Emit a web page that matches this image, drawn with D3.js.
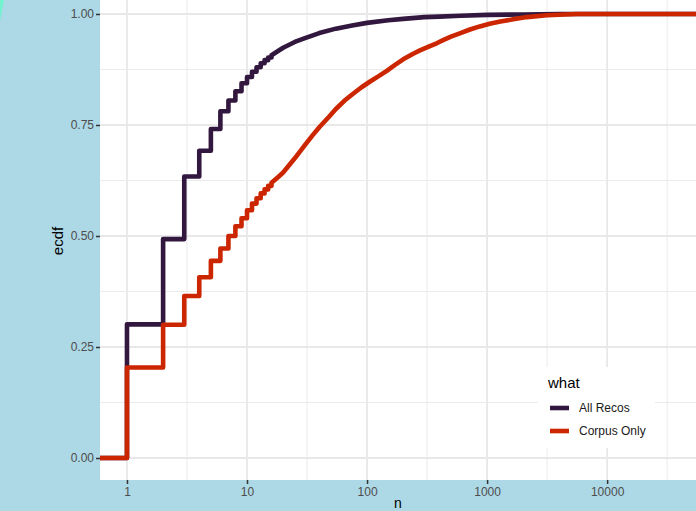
<!DOCTYPE html>
<html>
<head>
<meta charset="utf-8">
<script src="https://cdn.jsdelivr.net/npm/d3@7"></script>
<style>
  body { margin: 0; background: #add8e6; }
  svg { display: block; font-family: "Liberation Sans", Arial, sans-serif; }
</style>
</head>
<body>
<svg id="chart"></svg>
<script>
// series names and colours
const seriesNames = ["All Recos", "Corpus Only"];
const seriesColors = ["#32173f", "#cc2600"];

// integer steps of the ecdf (n = 1..16)
const stepN = [1, 2, 3, 4, 5, 6, 7, 8, 9, 10, 11, 12, 13, 14, 15, 16];
const allRecosStep = [0.301, 0.493, 0.634, 0.692, 0.741, 0.781, 0.805, 0.826, 0.844, 0.858, 0.870, 0.880, 0.889, 0.896, 0.902, 0.907];
const corpusStep = [0.204, 0.300, 0.365, 0.407, 0.444, 0.472, 0.500, 0.522, 0.540, 0.558, 0.573, 0.585, 0.596, 0.605, 0.613, 0.620];

// smooth tail of the ecdf (steps too small to see)
const allRecosTailN = [18, 20, 25, 30, 40, 55, 75, 100, 150, 200, 300, 400, 600, 1000, 2000, 4000];
const allRecosTail = [0.916, 0.924, 0.937, 0.945, 0.957, 0.967, 0.974, 0.980, 0.986, 0.989, 0.993, 0.994, 0.996, 0.998, 0.999, 1.0];
const corpusTailN = [18, 20, 25, 30, 35, 40, 48, 55, 65, 77, 90, 106, 125, 146, 170, 200, 240, 276, 330, 380, 430, 500, 600, 720, 870, 1050, 1290, 1650, 2150, 3160, 5600];
const corpusTail = [0.632, 0.643, 0.675, 0.703, 0.726, 0.745, 0.768, 0.786, 0.805, 0.821, 0.835, 0.848, 0.860, 0.872, 0.885, 0.898, 0.910, 0.918, 0.927, 0.934, 0.941, 0.949, 0.957, 0.965, 0.972, 0.978, 0.983, 0.988, 0.993, 0.997, 1.0];

const xTicks = [1, 10, 100, 1000, 10000];
const xMinor = [Math.sqrt(10), Math.sqrt(1000), Math.sqrt(100000), Math.sqrt(1e7), Math.sqrt(1e9)];
const yTicks = [0, 0.25, 0.5, 0.75, 1];
const yMinor = [0.125, 0.375, 0.625, 0.875];

const W = 696, H = 511;
const panel = { left: 100, top: 0, right: 696, bottom: 480 };

const svg = d3.select("#chart").attr("width", W).attr("height", H);

svg.append("rect").attr("width", W).attr("height", H).attr("fill", "#add8e6");
// little aquamarine sliver at the corner
svg.append("path").attr("d", "M0,0L4,0L0,21Z").attr("fill", "#72f2cf");

const x = d3.scaleLog().domain([0.596, 55000]).range([panel.left, panel.right]);
const y = d3.scaleLinear().domain([-0.0495, 1.0315]).range([panel.bottom, panel.top]);

svg.append("rect")
  .attr("x", panel.left).attr("y", panel.top)
  .attr("width", panel.right - panel.left).attr("height", panel.bottom - panel.top)
  .attr("fill", "white");

const grid = svg.append("g");
xMinor.forEach(v => grid.append("line")
  .attr("x1", x(v)).attr("x2", x(v)).attr("y1", panel.top).attr("y2", panel.bottom)
  .attr("stroke", "#ebebeb").attr("stroke-width", 1));
yMinor.forEach(v => grid.append("line")
  .attr("x1", panel.left).attr("x2", panel.right).attr("y1", y(v)).attr("y2", y(v))
  .attr("stroke", "#ebebeb").attr("stroke-width", 1));
xTicks.forEach(v => grid.append("line")
  .attr("x1", x(v)).attr("x2", x(v)).attr("y1", panel.top).attr("y2", panel.bottom)
  .attr("stroke", "#e8e8e8").attr("stroke-width", 1.8));
yTicks.forEach(v => grid.append("line")
  .attr("x1", panel.left).attr("x2", panel.right).attr("y1", y(v)).attr("y2", y(v))
  .attr("stroke", "#e8e8e8").attr("stroke-width", 1.8));

// build ecdf point list: explicit corners for the steps, plain points for the tail
function ecdfPoints(stepVals, tailN, tailVals) {
  const pts = [[x.domain()[0], 0]];
  let prev = 0;
  stepN.forEach((n, i) => {
    pts.push([n, prev]);
    pts.push([n, stepVals[i]]);
    prev = stepVals[i];
  });
  tailN.forEach((n, i) => pts.push([n, tailVals[i]]));
  pts.push([x.domain()[1], 1]);
  return pts;
}

const line = d3.line().x(d => x(d[0])).y(d => y(d[1]));

const allData = [
  ecdfPoints(allRecosStep, allRecosTailN, allRecosTail),
  ecdfPoints(corpusStep, corpusTailN, corpusTail)
];

allData.forEach((pts, i) => {
  svg.append("path")
    .datum(pts)
    .attr("fill", "none")
    .attr("stroke", seriesColors[i])
    .attr("stroke-width", 4.6)
    .attr("stroke-linejoin", "round")
    .attr("d", line);
});

// axes
const xAxis = d3.axisBottom(x).tickValues(xTicks).tickFormat(d3.format("d")).tickSize(4).tickPadding(3);
const xAxisG = svg.append("g").attr("transform", `translate(0,${panel.bottom})`).call(xAxis);
xAxisG.select(".domain").remove();
xAxisG.selectAll(".tick line").attr("stroke", "#333333").attr("stroke-width", 1.5);
xAxisG.selectAll(".tick text").attr("fill", "#4d4d4d").attr("font-size", 12)
  .attr("font-family", "Liberation Sans, Arial, sans-serif");

const yAxis = d3.axisLeft(y).tickValues(yTicks).tickFormat(d3.format(".2f")).tickSize(4).tickPadding(2);
const yAxisG = svg.append("g").attr("transform", `translate(${panel.left},0)`).call(yAxis);
yAxisG.select(".domain").remove();
yAxisG.selectAll(".tick line").attr("stroke", "#333333").attr("stroke-width", 1.5);
yAxisG.selectAll(".tick text").attr("fill", "#4d4d4d").attr("font-size", 12)
  .attr("font-family", "Liberation Sans, Arial, sans-serif");

svg.append("text").attr("x", (panel.left + panel.right) / 2).attr("y", 508)
  .attr("text-anchor", "middle").attr("font-size", 14).attr("fill", "black").text("n");
svg.append("text")
  .attr("transform", `translate(63,${(panel.top + panel.bottom) / 2 + 1}) rotate(-90)`)
  .attr("text-anchor", "middle").attr("font-size", 15).attr("fill", "black").text("ecdf");

// legend
const legend = svg.append("g").attr("transform", "translate(538,367)");
legend.append("rect").attr("width", 117).attr("height", 81).attr("fill", "white");
legend.append("text").attr("x", 10).attr("y", 21).attr("font-size", 15).attr("fill", "black").text("what");
seriesNames.forEach((name, i) => {
  const g = legend.append("g").attr("transform", `translate(0,${41 + i * 23})`);
  g.append("line").attr("x1", 12).attr("x2", 31).attr("y1", 0).attr("y2", 0)
    .attr("stroke", seriesColors[i]).attr("stroke-width", 4.6);
  g.append("text").attr("x", 41).attr("y", 4.3).attr("font-size", 12).attr("fill", "#1a1a1a").text(name);
});
</script>
</body>
</html>
